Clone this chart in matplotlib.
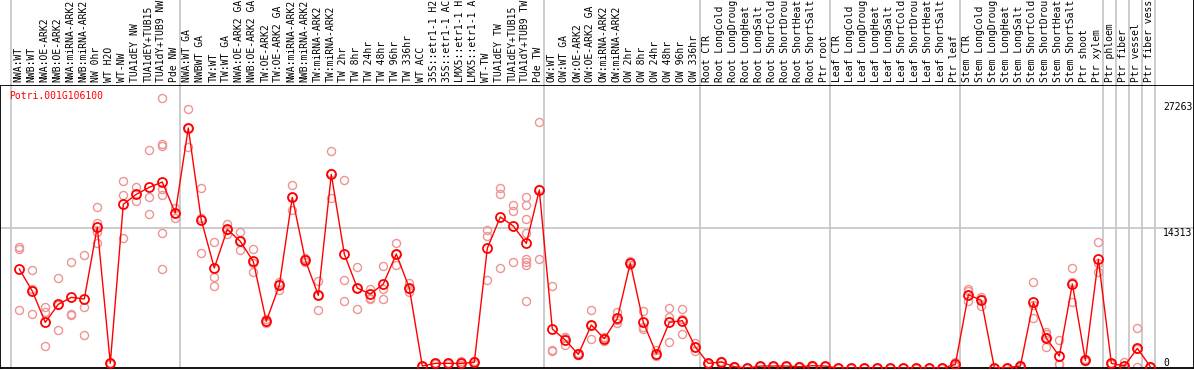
import numpy as np
import matplotlib.pyplot as plt

gene = "Potri.001G106100"

# sample labels (as printed, cut to 14 characters)
labels = [
    # NW
    "NWA:WT", "NWB:WT", "NWA:OE-ARK2", "NWB:OE-ARK2", "NWA:miRNA-ARK2", "NWB:miRNA-ARK2",
    "NW 0hr", "WT H2O", "WT-NW", "TUA1dEY NW", "TUA1dEY+TUB15", "TUA1dY+TUB9 NW", "Pde NW",
    # GA / TW
    "NWA:WT GA", "NWBWT GA", "TW:WT", "TW:WT GA", "NWA:OE-ARK2 GA", "NWB:OE-ARK2 GA",
    "TW:OE-ARK2", "TW:OE-ARK2 GA", "NWA:miRNA-ARK2", "NWB:miRNA-ARK2", "TW:miRNA-ARK2",
    "TW:miRNA-ARK2", "TW 2hr", "TW 8hr", "TW 24hr", "TW 48hr", "TW 96hr", "TW 336hr",
    "WT ACC", "35S::etr1-1 H2", "35S::etr1-1 AC", "LMX5::etr1-1 H", "LMX5::etr1-1 A",
    "WT-TW", "TUA1dEY TW", "TUA1dEY+TUB15", "TUA1dY+TUB9 TW", "Pde TW",
    # OW
    "OW:WT", "OW:WT GA", "OW:OE-ARK2", "OW:OE-ARK2 GA", "OW:miRNA-ARK2", "OW:miRNA-ARK2",
    "OW 2hr", "OW 8hr", "OW 24hr", "OW 48hr", "OW 96hr", "OW 336hr",
    # root
    "Root CTR", "Root LongCold", "Root LongDroug", "Root LongHeat", "Root LongSalt",
    "Root ShortCold", "Root ShortDrou", "Root ShortHeat", "Root ShortSalt", "Ptr root",
    # leaf
    "Leaf CTR", "Leaf LongCold", "Leaf LongDroug", "Leaf LongHeat", "Leaf LongSalt",
    "Leaf ShortCold", "Leaf ShortDrou", "Leaf ShortHeat", "Leaf ShortSalt", "Ptr leaf",
    # stem
    "Stem CTR", "Stem LongCold", "Stem LongDroug", "Stem LongHeat", "Stem LongSalt",
    "Stem ShortCold", "Stem ShortDrou", "Stem ShortHeat", "Stem ShortSalt", "Ptr shoot",
    "Ptr xylem",
    "Ptr phloem", "Ptr fiber", "Ptr vessel", "Ptr fiber vess",
]

# first sample index of each group (last entry = end)
group_starts = [0, 13, 41, 53, 63, 73, 84, 85, 86, 87, 88]

means = [10146, 7898, 4695, 6535, 7250, 7080, 14439, 505, 16756, 17778,
         18494, 19039, 15870, 24558, 15155, 10249, 14201, 12974, 10930, 4797,
         8477, 17471, 11066, 7455, 19822, 11680, 8204, 7591, 8614, 11680,
         8204, 232, 505, 505, 505, 607, 12259, 15461, 14541, 12770,
         18221, 4014, 2889, 1424, 4423, 3026, 5104, 10760, 4695, 1493,
         4695, 4866, 2174, 505, 641, 164, 20, 232, 232, 232,
         164, 266, 232, 20, 20, 20, 20, 20, 20, 20,
         20, 20, 403, 7523, 6944, 64, 64, 232, 6739, 3060,
         1254, 8614, 811, 11135, 505, 232, 2038, 164]

reps = [
    [12429, 12191, 5956], [10010, 5547, 8136], [6296, 5785, 2276], [9192, 3912, 6501],
    [10828, 5411, 5513], [11577, 6296, 3366], [16483, 14882, 13962, 12838], [573, 505, 437],
    [19141, 17676, 13281], [18494, 17063, 17778], [22275, 17471, 15734],
    [27590, 22889, 22752, 18323, 17676, 13792, 10112], [16347, 15393, 15870],
    [26500, 22582, 24592],
    [18391, 11748, 15325], [12872, 9363, 8375], [14746, 13724, 14133], [13894, 12054, 12974],
    [12191, 9840, 10760], [5002, 4729, 4661], [8818, 8000, 8614], [18698, 16177, 17540],
    [11237, 10828, 11135], [8954, 5956, 7455], [22173, 17369, 19924], [19209, 8988, 6842],
    [10317, 6058, 8238], [8068, 7148, 7080], [10419, 8102, 7046], [12770, 10555, 11714],
    [8681, 7830, 8102], [200, 232, 260], [480, 505, 530], [480, 505, 530], [777, 505, 300],
    [777, 607, 440], [14133, 13553, 8988], [18391, 17778, 10215], [16688, 16041, 10828],
    [17471, 16654, 15223, 13792, 11169, 10828, 10589, 6842], [25137, 11169, 18357],
    [8375, 1867, 1799], [3230, 2344, 3094], [1595, 1356, 1322], [5922, 2958, 4389],
    [3162, 2821, 3094], [5785, 4593, 4934], [10964, 10760, 10556], [5854, 4184, 3980],
    [1867, 1356, 1254], [6126, 5206, 2651], [6058, 3469, 5070], [2549, 1799, 2174],
    [573, 437, 505], [709, 334, 641],
    [200, 150, 140], [40, 10, 10], [260, 232, 200], [260, 232, 200], [260, 232, 200],
    [200, 150, 140], [300, 266, 230], [260, 232, 200],
    [30, 20, 10], [30, 20, 10], [30, 20, 10], [30, 20, 10], [30, 20, 10],
    [30, 20, 10], [30, 20, 10], [30, 20, 10], [30, 20, 10],
    [607, 334, 270], [8102, 7898, 6842], [7250, 7046, 6365],
    [80, 64, 50], [80, 64, 50], [334, 200, 164], [8784, 6467, 5104], [3741, 3469, 3230, 2140],
    [2889, 403, 471], [10215, 6808, 8818], [913, 743, 780], [12872, 10726, 9806],
    [573, 437, 505], [675, 64, 0], [4082, 98, 1936], [232, 98, 164],
]

ytick_vals = [27263, 14313, 0]

MONO = "DejaVu Sans Mono"
GRID = "#c4c4c4"
REP = "#ee9494"

fig = plt.figure(figsize=(11.94, 3.70), dpi=100)
ax = fig.add_axes([0.0004, 0.0046, 0.9992, 0.7657])
lab = fig.add_axes([0.0004, 0.7703, 0.9992, 0.2297])

x = np.arange(len(labels))
xlim = (-1.446, 90.32)

# replicates
for i, r in enumerate(reps):
    ax.plot([i] * len(r), r, 'o', ms=5.8, mfc='none', mec=REP, mew=1.0, zorder=2, clip_on=True)

# mean line + markers
ax.plot(x, means, '-', color='red', lw=1.0, zorder=3)
ax.plot(x, means, 'o', ms=6.5, mfc='none', mec='red', mew=1.3, zorder=4)

ax.set_xlim(xlim)
ax.set_ylim(0, 28953)
ax.set_xticks([])
ax.set_yticks([])
for s in ax.spines.values():
    s.set_linewidth(1.3)
    s.set_color('black')

# grid lines (group boundaries)
for a in (ax, lab):
    for g in group_starts:
        a.axvline(g - 0.62, color=GRID, lw=1.2, zorder=0)
ax.axhline(14313, color=GRID, lw=1.2, zorder=0)

# value labels on the right
for v in ytick_vals:
    ax.text(0.9745, v if v > 0 else 0, str(v), transform=ax.get_yaxis_transform(),
            ha='left', va='top' if v > 0 else 'bottom', fontsize=7, family=MONO)

ax.text(0.0075, 0.978, gene, transform=ax.transAxes, ha='left', va='top',
        fontsize=7, family=MONO, color='red')

# sample labels
lab.set_xlim(xlim)
lab.set_ylim(0, 1)
lab.set_xticks([])
lab.set_yticks([])
for side in ('top', 'left', 'bottom'):
    lab.spines[side].set_visible(False)
lab.spines['right'].set_linewidth(1.3)
for i, t in enumerate(labels):
    lab.text(i - 0.08, 0.035, t, rotation=90, ha='center', va='bottom',
             fontsize=7, family=MONO)

fig.savefig("out.png", dpi=100)
